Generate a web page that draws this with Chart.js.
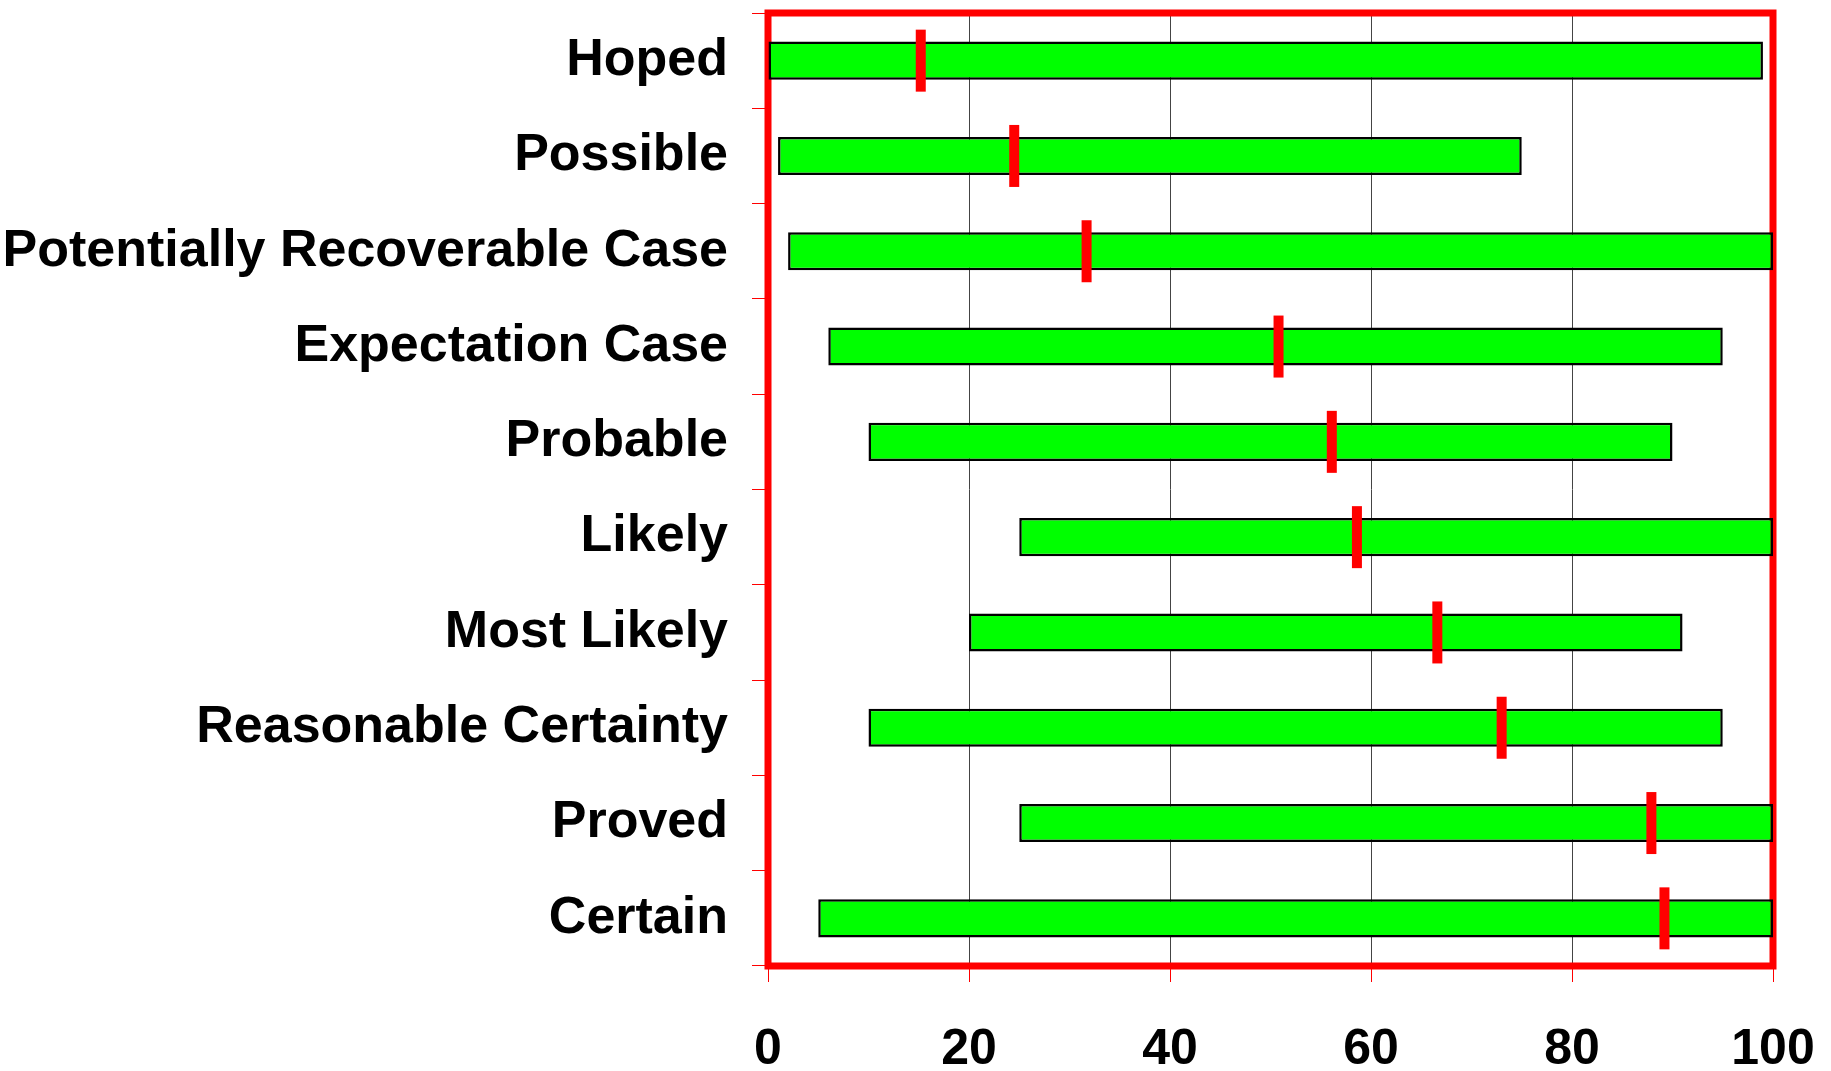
<!DOCTYPE html>
<html>
<head>
<meta charset="utf-8">
<script src="https://cdn.jsdelivr.net/npm/chart.js@4/dist/chart.umd.min.js"></script>
<style>
  html, body { margin: 0; padding: 0; background: #fff; }
  #wrap { width: 1831px; height: 1071px; position: relative; }
</style>
</head>
<body>
<div id="wrap"><canvas id="chart"></canvas></div>
<script>
// Categories, top to bottom
const categories = [
    "Hoped",
    "Possible",
    "Potentially Recoverable Case",
    "Expectation Case",
    "Probable",
    "Likely",
    "Most Likely",
    "Reasonable Certainty",
    "Proved",
    "Certain"
];

// Green range: start and end of each bar
const rangeLow = [0, 1, 2, 6, 10, 25, 20, 10, 25, 5];
const rangeHigh = [99, 75, 100, 95, 90, 100, 91, 95, 100, 100];

// Red marker value on each bar
const markers = [15.2, 24.5, 31.7, 50.8, 56.1, 58.6, 66.6, 73.0, 87.9, 89.2];

// X axis ticks
const xTicks = [0, 20, 40, 60, 80, 100];

const ranges = rangeLow.map((lo, i) => [lo, rangeHigh[i]]);

// Red frame round the plot area
const framePlugin = {
    id: "frame",
    beforeDatasetsDraw(chart) {
        const { ctx, chartArea: a } = chart;
        ctx.save();
        ctx.strokeStyle = "#ff0000";
        ctx.lineWidth = 7;
        ctx.strokeRect(a.left, a.top, a.right - a.left, a.bottom - a.top);
        ctx.restore();
    }
};

// keep the plot area where the picture has it
const noPad = (scale) => {
    scale.paddingTop = 0;
    scale.paddingBottom = 0;
    scale.paddingLeft = 0;
    scale.paddingRight = 0;
};

new Chart(document.getElementById("chart"), {
    type: "bar",
    plugins: [framePlugin],
    data: {
        labels: categories,
        datasets: [
            {
                type: "line",
                indexAxis: "y",
                data: markers,
                showLine: false,
                pointStyle: "line",
                pointRotation: 90,
                pointRadius: 31,
                pointHoverRadius: 31,
                pointBorderWidth: 10,
                pointBorderColor: "#ff0000",
                pointBackgroundColor: "#ff0000",
                order: 0
            },
            {
                data: ranges,
                backgroundColor: "#00ff00",
                borderColor: "#000000",
                borderWidth: 2.5,
                borderSkipped: false,
                barPercentage: 0.4,
                categoryPercentage: 1,
                order: 1
            }
        ]
    },
    options: {
        indexAxis: "y",
        responsive: true,
        maintainAspectRatio: false,
        animation: false,
        events: [],
        layout: { autoPadding: false, padding: { left: 0, right: 58, top: 13, bottom: 0 } },
        plugins: {
            legend: { display: false },
            tooltip: { enabled: false }
        },
        scales: {
            x: {
                min: 0,
                max: 100,
                afterBuildTicks: (scale) => {
                    scale.ticks = xTicks.map(v => ({ value: v }));
                },
                afterFit: (scale) => { scale.height = 105; noPad(scale); },
                border: { display: false },
                grid: {
                    color: "#444444",
                    lineWidth: 1,
                    tickColor: "#ff0000",
                    tickLength: 16
                },
                ticks: {
                    color: "#000",
                    padding: 38,
                    font: { family: "Liberation Sans", size: 50, weight: "bold" }
                }
            },
            y: {
                afterFit: (scale) => { scale.width = 768; noPad(scale); },
                border: { display: false },
                grid: {
                    drawOnChartArea: false,
                    tickColor: "#ff0000",
                    tickLength: 16
                },
                ticks: {
                    color: "#000",
                    padding: 24,
                    font: { family: "Liberation Sans", size: 52, weight: "bold" }
                }
            }
        }
    }
});
</script>
</body>
</html>
